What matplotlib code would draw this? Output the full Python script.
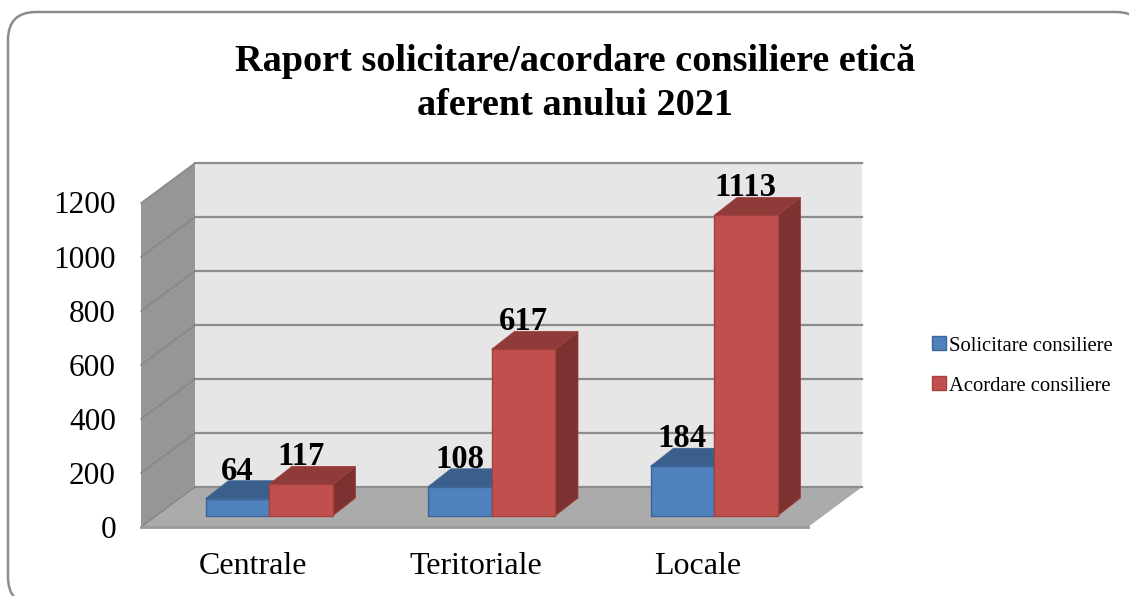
import matplotlib
matplotlib.use("Agg")
import matplotlib.pyplot as plt
from matplotlib.patches import FancyBboxPatch, Polygon, Patch
from matplotlib.transforms import Affine2D

categories = ["Centrale", "Teritoriale", "Locale"]
solicitare = [64, 108, 184]
acordare = [117, 617, 1113]
y_ticks = [0, 200, 400, 600, 800, 1000, 1200]
series_names = ["Solicitare consiliere", "Acordare consiliere"]
title = "Raport solicitare/acordare consiliere etică\naferent anului 2021"

# layout of the picture, in pixels
W, H = 1129, 596
X0, PX_CAT = 269.0, 222.5
Y0, PX_VAL = 516.0, 0.27


def cx(px):
    return (px - X0) / PX_CAT


def vy(py):
    return (Y0 - py) / PX_VAL


# sizes in data units
bar_w = 63.5 / PX_CAT
bar_dx = 23 / PX_CAT
bar_dy = 18 / PX_VAL
wall_dx = 54 / PX_CAT
wall_dy = 40 / PX_VAL
front_v = vy(527)
left = cx(141)
right = cx(808)

BLUE = ("#4F81BD", "#3A5F8C", "#335479", "#3C6595")
RED = ("#C0504D", "#8F3B39", "#7C3230", "#A5403D")

plt.rcParams["font.family"] = ["Liberation Serif", "DejaVu Serif"]
fig = plt.figure(figsize=(W / 100, H / 100), dpi=100)
ax = fig.add_axes([0, 0, 1, 1])
ax.set_xlim(cx(0), cx(W))
ax.set_ylim(vy(H), vy(0))
ax.axis("off")

# outer frame, runs off the bottom and right side
frame = FancyBboxPatch((8, 12), 1136, 593, boxstyle="round,pad=0,rounding_size=28",
                       fc="white", ec="#8C8C8C", lw=1.8, zorder=-1,
                       transform=Affine2D().scale(1, -1).translate(0, H))
fig.add_artist(frame)

top_v = front_v + y_ticks[-1]

# walls and floor
ax.add_patch(Polygon([(left + wall_dx, front_v + wall_dy), (right + wall_dx, front_v + wall_dy),
                      (right + wall_dx, top_v + wall_dy), (left + wall_dx, top_v + wall_dy)],
                     fc="#E6E6E6", ec="none", zorder=1))
ax.add_patch(Polygon([(left, front_v), (left + wall_dx, front_v + wall_dy),
                      (left + wall_dx, top_v + wall_dy), (left, top_v)],
                     fc="#969696", ec="none", zorder=1))
ax.add_patch(Polygon([(left, front_v), (right, front_v), (right + wall_dx, front_v + wall_dy),
                      (left + wall_dx, front_v + wall_dy)],
                     fc="#ABABAB", ec="none", zorder=1))

# gridlines
for t in y_ticks:
    v = front_v + t
    ax.plot([left + wall_dx, right + wall_dx], [v + wall_dy, v + wall_dy], color="#8C8C8C", lw=1.6, zorder=2)
    ax.plot([left, left + wall_dx], [v, v + wall_dy], color="#858585", lw=1.0, zorder=2)
    ax.text(cx(116), v - 3 / PX_VAL, str(t), ha="right", va="center", fontsize=22.5, color="black")
ax.plot([left, right], [front_v, front_v], color="#9A9A9A", lw=2.0, zorder=2)


def bar3d(x, value, cols, z):
    # x is the left edge of the front face
    ax.add_patch(Polygon([(x, value), (x + bar_w, value), (x + bar_w + bar_dx, value + bar_dy), (x + bar_dx, value + bar_dy)],
                         fc=cols[1], ec=cols[3], lw=0.6, zorder=z))
    ax.add_patch(Polygon([(x + bar_w, 0), (x + bar_w + bar_dx, bar_dy), (x + bar_w + bar_dx, value + bar_dy), (x + bar_w, value)],
                         fc=cols[2], ec=cols[3], lw=0.6, zorder=z))
    ax.bar(x, value, width=bar_w, align="edge", color=cols[0], edgecolor=cols[3], linewidth=1.0, zorder=z + 0.1)
    ax.text(x + bar_w / 2, value + bar_dy + 1 / PX_VAL, str(value), ha="center", va="baseline",
            fontsize=23.5, fontweight="bold", color="black", zorder=10)


for i in range(len(categories)):
    bar3d(i - bar_w, solicitare[i], BLUE, 3 + i)
    bar3d(i, acordare[i], RED, 3.5 + i)
    ax.text(i - 16 / PX_CAT, vy(566), categories[i], ha="center", va="center", fontsize=23, color="black")

fig.text(575 / W, 1 - 83.5 / H, title, ha="center", va="center", fontsize=27.5, fontweight="bold",
         color="black", linespacing=1.36)

handles = [Patch(fc=BLUE[0], ec=BLUE[3], lw=1.0), Patch(fc=RED[0], ec=RED[3], lw=1.0)]
ax.legend(handles, series_names, loc="center left", bbox_to_anchor=(924 / W, 1 - 366 / H), frameon=False,
          fontsize=14.9, labelspacing=1.0, handlelength=0.65, handleheight=0.65, handletextpad=0.15, borderpad=0, borderaxespad=0.4)

fig.savefig("out.png", dpi=100)
